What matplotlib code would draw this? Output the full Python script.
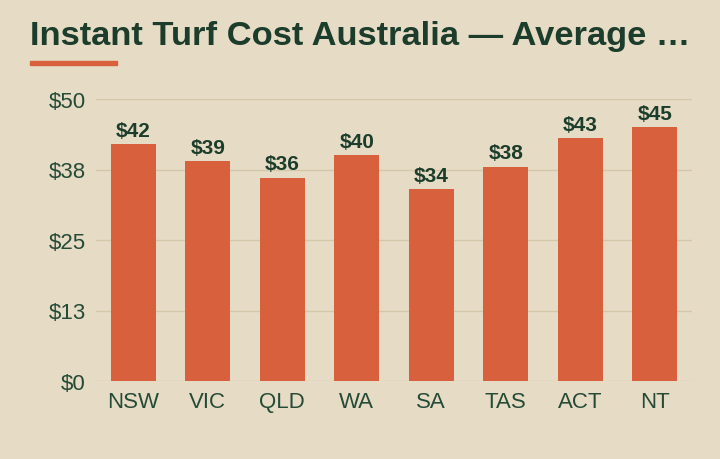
import matplotlib
matplotlib.use("Agg")
import matplotlib.pyplot as plt

states = ["NSW", "VIC", "QLD", "WA", "SA", "TAS", "ACT", "NT"]
costs = [42, 39, 36, 40, 34, 38, 43, 45]
yticks = [0, 12.5, 25, 37.5, 50]
ytick_labels = ["$0", "$13", "$25", "$38", "$50"]
title = "Instant Turf Cost Australia \u2014 Average \u2026"

BG = "#e6dcc5"
BAR = "#d9603c"
TXT = "#1c3d2b"
TICK = "#254a36"
GRID = "#d3c6a9"

fig = plt.figure(figsize=(7.2, 4.6), dpi=100, facecolor=BG)
W, H = 720, 460
ax = fig.add_axes([96 / W, 1 - 382 / H, (692 - 96) / W, (382 - 100) / H])
ax.set_facecolor(BG)

x = range(len(states))
ax.bar(x, costs, width=0.6, color=BAR, zorder=2)
for xi, v in zip(x, costs):
    ax.text(xi, v + 0.8, f"${v}", ha="center", va="bottom", fontsize=15,
            fontweight="bold", color=TXT, family="Liberation Sans")

ax.set_xlim(-0.5, len(states) - 0.5)
ax.set_ylim(0, 50)
ax.set_yticks(yticks)
ax.set_yticklabels(ytick_labels)
ax.set_xticks(list(x))
ax.set_xticklabels(states)
for lab in ax.get_xticklabels() + ax.get_yticklabels():
    lab.set_family("Liberation Sans")
    lab.set_fontsize(16)
    lab.set_color(TICK)
ax.tick_params(axis="both", length=0)
ax.tick_params(axis="y", pad=7.5)
ax.tick_params(axis="x", pad=7)
ax.grid(axis="y", color=GRID, linewidth=1, zorder=0)
for s in ax.spines.values():
    s.set_visible(False)

fig.text(30 / W, 1 - 36 / H, title, ha="left", va="center", fontsize=24.8,
         fontweight="bold", color=TXT, family="Liberation Sans")
fig.patches.append(plt.Rectangle((30 / W, 1 - 66 / H), 87 / W, 4 / H,
                                 transform=fig.transFigure, color=BAR, figure=fig))

fig.savefig("out.png", dpi=100, facecolor=BG)
